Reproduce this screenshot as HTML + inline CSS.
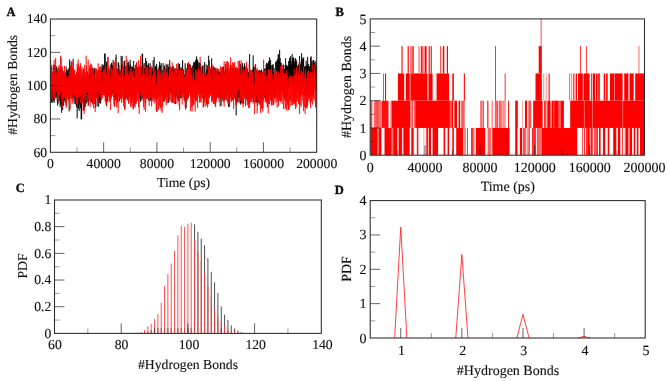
<!DOCTYPE html>
<html><head><meta charset="utf-8"><style>
html,body{margin:0;padding:0;background:#fff;}
svg{display:block;}
text{text-rendering:geometricPrecision;font-family:"Liberation Serif",serif;fill:#111;stroke:#111;stroke-width:0.12px;}
#wrap{width:669px;height:381px;will-change:transform;}
</style></head><body><div id="wrap">
<svg width="669" height="381" viewBox="0 0 669 381">
<defs>
<clipPath id="clipA"><rect x="50.4" y="19.0" width="266.3" height="133.3"/></clipPath>
<clipPath id="clipB"><rect x="370.2" y="18.9" width="274.3" height="136.29999999999998"/></clipPath>
</defs>
<rect width="669" height="381" fill="#fff"/>
<g clip-path="url(#clipA)">
<path d="M50.65 60.25V98.53M51.15 65.51V93.66M51.65 75.37V102.52M52.15 73.7V102.33M52.65 73.97V97.87M53.15 75.33V99.57M53.65 77.82V101.13M54.15 64.86V102.34M54.65 71.71V96.51M55.15 65.4V98.43M55.65 80.77V96.44M56.15 70.53V97.8M56.65 66.31V94.94M57.15 73.73V101.2M57.65 78.41V105.74M58.15 78.41V103.56M58.65 71.54V95.9M59.15 77.27V96.57M59.65 73.32V100.68M60.15 77.71V107.33M60.65 77.92V104.47M61.15 67.67V105.38M61.65 67.67V112.84M62.15 69.68V94.74M62.65 79.6V110.05M63.15 77.58V105.51M63.65 80.66V105.51M64.15 72.91V99.94M64.65 77.72V100.75M65.15 85.68V102.73M65.65 76.98V94.04M66.15 66.37V105.16M66.65 70.4V100.5M67.15 71.91V90.63M67.65 70.22V92.29M68.15 68.73V91.97M68.65 73.94V95.83M69.15 68.09V111.36M69.65 59.43V98.02M70.15 71.54V88.78M70.65 66.21V91.92M71.15 61.33V98.92M71.65 72.45V92.74M72.15 69.78V95.57M72.65 68.89V99.14M73.15 58.85V93.43M73.65 72.28V97.14M74.15 72.48V103.9M74.65 76.78V93.5M75.15 75.58V99.03M75.65 76.61V104.14M76.15 76.75V104.83M76.65 81.72V107.17M77.15 80.49V118.4M77.65 73.99V101.89M78.15 73.99V108.52M78.65 76.89V108.52M79.15 82.11V111.02M79.65 84.39V103.39M80.15 81.66V105.11M80.65 81.56V108.31M81.15 77.57V119.59M81.65 76.56V118.98M82.15 83.04V102.58M82.65 76.33V96.67M83.15 79.16V99.55M83.65 70.26V110.17M84.15 78.99V110.17M84.65 85.01V106.42M85.15 78.83V107.12M85.65 75.73V101.64M86.15 72.73V103.71M86.65 78.6V94.58M87.15 80.18V102.52M87.65 72.04V94.87M88.15 75.62V100.45M88.65 74.68V105.48M89.15 77.2V100.5M89.65 68.88V94.37M90.15 68.56V96.96M90.65 68.56V84.25M91.15 73.36V93.93M91.65 72.24V102.51M92.15 67.83V99.07M92.65 76.38V103.37M93.15 68.22V96.22M93.65 71.37V94.02M94.15 72.24V93.75M94.65 67.85V98.58M95.15 82.44V99.84M95.65 81.47V107.8M96.15 81V97.85M96.65 70.59V97.18M97.15 83.89V106.32M97.65 81.06V96.19M98.15 76.13V100.53M98.65 77.85V106.72M99.15 77.81V96.69M99.65 74.65V103.17M100.15 70.92V89.58M100.65 73.36V103.67M101.15 71.65V86.93M101.65 68.36V95.32M102.15 64.12V93.12M102.65 66.98V93.15M103.15 68.99V95.1M103.65 64.8V94.81M104.15 73.47V94.39M104.65 53.61V80.41M105.15 53.61V96.57M105.65 70.48V100.52M106.15 65.24V103.61M106.65 61.59V106.2M107.15 61.59V90.29M107.65 76.6V101.62M108.15 67.87V93.95M108.65 74.74V94.5M109.15 70.31V93.66M109.65 70.31V91.93M110.15 65.3V94.54M110.65 71.07V97.29M111.15 63.83V90.93M111.65 62.59V94.96M112.15 65.55V88.82M112.65 65.33V92.87M113.15 59.95V94.72M113.65 73.63V96.98M114.15 70.47V103.62M114.65 78.27V106.67M115.15 75.01V100.24M115.65 68.36V94.16M116.15 54.55V100.25M116.65 71.62V96.31M117.15 71.27V94.5M117.65 68.85V102.56M118.15 62.56V90.96M118.65 62.56V82.8M119.15 68.99V90.19M119.65 71.61V101.45M120.15 69.59V98.27M120.65 76.08V98.27M121.15 55.85V87.04M121.65 65.01V89.07M122.15 55.94V97.85M122.65 64.41V83.93M123.15 66.57V89.49M123.65 73.4V94.41M124.15 69.85V102.32M124.65 60.69V91.87M125.15 65.82V87.22M125.65 72.79V99.26M126.15 73.93V97.66M126.65 66.08V94.39M127.15 74.44V100.24M127.65 62.97V87.79M128.15 71.97V96.59M128.65 61.76V88.63M129.15 64.71V86.41M129.65 67.65V97.41M130.15 59.72V92.18M130.65 64.69V90.24M131.15 72.88V99.78M131.65 66.89V102.95M132.15 74.04V97.86M132.65 66.4V89.04M133.15 70.24V92.28M133.65 60.87V96.01M134.15 77.5V106.43M134.65 68.33V97.66M135.15 68.33V91.34M135.65 64.7V98.32M136.15 67.32V98.32M136.65 63.53V92.89M137.15 67.24V92.03M137.65 67.24V89.5M138.15 67.72V93.97M138.65 73.13V93.37M139.15 67.03V90.78M139.65 67.45V98.19M140.15 68.14V99.6M140.65 73.83V101.82M141.15 66.2V94.62M141.65 73.73V98.77M142.15 53.76V98.78M142.65 53.76V97.29M143.15 68.9V93.97M143.65 69.66V94.05M144.15 63.01V94.21M144.65 68.16V92.62M145.15 73.4V95.52M145.65 58.04V102.86M146.15 72.45V93.54M146.65 60.95V96.68M147.15 67.32V95.97M147.65 65.06V89.24M148.15 68.75V93.35M148.65 63.26V100.6M149.15 69.84V94.27M149.65 67.01V95.85M150.15 63.24V94.02M150.65 67.41V100.17M151.15 68.31V101.29M151.65 68.81V101.29M152.15 67.54V95.05M152.65 71.21V91.37M153.15 60.23V98.12M153.65 69.79V93.84M154.15 56.92V97.25M154.65 70.39V97.25M155.15 67.7V89.06M155.65 65.96V93.47M156.15 66.31V93.47M156.65 63.77V89.54M157.15 70.11V98.24M157.65 76.75V95.8M158.15 68.19V97.75M158.65 71.02V94.87M159.15 65.71V95.52M159.65 61.53V93.11M160.15 65.5V86.68M160.65 65.58V92.35M161.15 63.21V96.05M161.65 70.37V93.07M162.15 69.94V89.99M162.65 75.3V96.24M163.15 63.11V93.36M163.65 69.84V101.24M164.15 67.21V97.38M164.65 65.44V100.79M165.15 73.58V91.06M165.65 69.86V97.56M166.15 63.68V96.39M166.65 67.6V90.26M167.15 68.9V90.33M167.65 64.55V93.71M168.15 69.42V93.71M168.65 66.81V102.94M169.15 63.63V91.89M169.65 60.01V99.62M170.15 74.28V91.24M170.65 68.75V91.31M171.15 67.65V94.07M171.65 70.48V94.97M172.15 68.12V94.22M172.65 66.29V102.39M173.15 66.01V90.06M173.65 69.87V87.87M174.15 71.25V92.86M174.65 68.29V97.75M175.15 68.29V98.48M175.65 74.32V104.05M176.15 76.29V94.47M176.65 72.58V95.57M177.15 68.38V99.15M177.65 74.17V93.62M178.15 62.9V96.87M178.65 70.83V101.24M179.15 63.85V90.09M179.65 63.96V92.03M180.15 67.55V98.67M180.65 70.89V93.84M181.15 67.9V98.01M181.65 71.83V98.01M182.15 66.73V91.67M182.65 60.11V85.79M183.15 69.29V90.14M183.65 70.08V93.65M184.15 79.39V100.31M184.65 74.45V92.95M185.15 63.27V102.51M185.65 70.47V97.43M186.15 68.16V108.12M186.65 70.62V98.43M187.15 78.25V98.43M187.65 63.23V87.97M188.15 65.95V98.18M188.65 73.79V96.78M189.15 71.74V92.1M189.65 63.75V88.08M190.15 65.6V92.74M190.65 64.88V92.6M191.15 69.48V90.29M191.65 68.09V88.11M192.15 66.79V98.11M192.65 66.45V91.31M193.15 64.77V80.27M193.65 62.39V87.15M194.15 70.29V90.17M194.65 61.82V87.82M195.15 67.15V88.5M195.65 60.56V100.01M196.15 58.7V86.66M196.65 56.35V95.79M197.15 59.72V92.91M197.65 59.91V93.58M198.15 61.87V87.24M198.65 67.7V87.89M199.15 62.72V91.99M199.65 63.03V92.44M200.15 65.66V91.32M200.65 63.54V95.29M201.15 68.93V88.97M201.65 73.48V93.65M202.15 67.25V91.74M202.65 65.46V98.22M203.15 77.68V95.54M203.65 77.91V106.3M204.15 77.6V93.13M204.65 62.02V99.66M205.15 78.33V96.03M205.65 74.58V97.17M206.15 64.37V87.49M206.65 69.8V103.94M207.15 70.48V97.7M207.65 65.41V103.63M208.15 68.04V88.15M208.65 55.68V93.26M209.15 60.21V95.49M209.65 71.82V95.54M210.15 72.43V90.52M210.65 68.87V93.31M211.15 70.38V92.84M211.65 58.33V91.05M212.15 70.84V94.19M212.65 68.16V91.42M213.15 69.04V90.83M213.65 66.3V94.84M214.15 73.17V89.07M214.65 67.83V98.28M215.15 67.59V103.93M215.65 69.95V93.99M216.15 70.09V96.08M216.65 72.97V98.68M217.15 74.85V97.51M217.65 70.98V90.14M218.15 69.1V94.31M218.65 72.17V94.31M219.15 71.72V97.32M219.65 71.96V92.48M220.15 71.67V106.51M220.65 74.61V97.47M221.15 76.37V93.98M221.65 71.2V97.22M222.15 67.55V100.87M222.65 67.09V98.07M223.15 68.1V95.57M223.65 66.52V98.28M224.15 71.5V100.04M224.65 73.33V100.38M225.15 69.91V97.38M225.65 64.14V95.52M226.15 69V100.67M226.65 71.73V90.26M227.15 69.33V91.35M227.65 66.77V91.34M228.15 73.11V90.16M228.65 72.86V106.98M229.15 73.22V106.98M229.65 75.68V95.31M230.15 68.38V91.73M230.65 67.07V95.53M231.15 64.86V101.79M231.65 73.36V94.38M232.15 76.74V98.38M232.65 67.89V93.84M233.15 73.67V92.79M233.65 70.55V99.66M234.15 70.81V87.55M234.65 69.42V97.82M235.15 67.8V95.26M235.65 67.8V99.08M236.15 76.14V115.48M236.65 70.75V100.62M237.15 70.56V95.05M237.65 68.18V102.35M238.15 70.41V90.29M238.65 73.79V97.75M239.15 69.91V101.7M239.65 69.61V96.74M240.15 68.43V99.26M240.65 63.88V104.67M241.15 77.55V94.43M241.65 77.01V103.2M242.15 68.88V91.89M242.65 63.07V81.91M243.15 72.6V90.4M243.65 67.22V104.02M244.15 66.63V93.38M244.65 63.29V94.87M245.15 75.2V95.7M245.65 71.54V96.5M246.15 65.72V99.12M246.65 67.19V88.54M247.15 68.27V100.78M247.65 70.14V100.14M248.15 77V104.71M248.65 71.98V98.03M249.15 75.07V102.91M249.65 54.05V90.02M250.15 73.32V95.44M250.65 70.59V97.13M251.15 74.59V102.25M251.65 74.99V97.88M252.15 69.6V91.66M252.65 70.47V94.97M253.15 55.31V102.16M253.65 67.08V93.56M254.15 67.29V93.56M254.65 72.58V97.44M255.15 66.55V94.34M255.65 64.22V93.35M256.15 69.73V101.76M256.65 71.04V101.76M257.15 73.59V103.33M257.65 73.18V105.79M258.15 70.14V98.74M258.65 70.38V102.66M259.15 70.99V93.44M259.65 70.43V97.8M260.15 70.43V104.76M260.65 71.28V100.24M261.15 78.09V101.07M261.65 69.38V99.54M262.15 80.53V101.83M262.65 71.78V92.68M263.15 72.34V96.25M263.65 70.36V94.68M264.15 81.31V97.66M264.65 68.44V97.45M265.15 68.65V96.23M265.65 74.18V99.28M266.15 64.48V91.68M266.65 62.76V97.42M267.15 67.18V97.42M267.65 63.52V96.65M268.15 63.52V103.55M268.65 61.19V83.81M269.15 61.9V90.27M269.65 57.4V95.06M270.15 65.98V90.04M270.65 59.86V90.31M271.15 65.24V97.59M271.65 70.4V100.98M272.15 64.99V87.92M272.65 64.99V90.82M273.15 64.03V93.95M273.65 72.74V96.55M274.15 67.86V87.3M274.65 75.9V98.21M275.15 76.76V92.9M275.65 61.76V92.94M276.15 69.34V87.41M276.65 61.35V91.59M277.15 59.67V80.49M277.65 59.45V82.73M278.15 54.29V84.76M278.65 54.38V87.96M279.15 61.09V95.15M279.65 49.83V89.22M280.15 58.11V88.4M280.65 62.46V91.73M281.15 63.14V84.93M281.65 69.42V90.09M282.15 69.16V90.99M282.65 69.16V91.33M283.15 72.5V92.25M283.65 64.42V93.73M284.15 70.51V96.21M284.65 68.84V98.36M285.15 65.76V97.73M285.65 58.24V93.51M286.15 67.85V83.84M286.65 65.04V93.85M287.15 65.51V91.8M287.65 66.74V92.78M288.15 66.07V88.02M288.65 61V86.75M289.15 65.26V87.46M289.65 57.8V87.68M290.15 59.4V83.96M290.65 56.06V87.92M291.15 61.15V88.01M291.65 63.79V84.17M292.15 53.89V94.65M292.65 58.49V84.09M293.15 58.49V82.82M293.65 57.11V90.69M294.15 63.73V93.07M294.65 61.39V98.55M295.15 58.48V85.69M295.65 58.48V90.42M296.15 59.85V89.39M296.65 61.68V90.59M297.15 68.79V90.54M297.65 65.66V88.03M298.15 69.51V87.5M298.65 64.48V90.5M299.15 63.93V90.76M299.65 56.07V98.47M300.15 66.56V84.94M300.65 63.75V93.96M301.15 61.96V83.3M301.65 53.16V81.11M302.15 58.31V91.77M302.65 58.75V80.99M303.15 60.13V85.62M303.65 57.35V80.32M304.15 66.77V86.72M304.65 66.53V96.4M305.15 67.21V91.48M305.65 66.22V93.13M306.15 60.59V94.48M306.65 65.02V90.25M307.15 65.63V84.49M307.65 56.89V93.37M308.15 69.59V97M308.65 63.89V88.51M309.15 68.01V92.31M309.65 66.04V89.77M310.15 69.1V92.69M310.65 57.42V92.27M311.15 56.25V90.24M311.65 62.69V90.85M312.15 60.96V96.6M312.65 68.29V92.13M313.15 59.97V94.49M313.65 59.97V88.92M314.15 70.49V86.73M314.65 62.58V82.29M315.15 60.8V82.62M315.65 67.73V90.54M316.15 65.64V91.02M316.65 63.75V89.38" stroke="#000" stroke-width="1" fill="none"/>
<path d="M50.65 69.21V95.9M51.15 75.21V98.91M51.65 71.69V89.02M52.15 72.16V98.57M52.65 71.28V90.15M53.15 64.43V96.37M53.65 65.27V92.65M54.15 59.96V96.91M54.65 73.95V99.9M55.15 68.53V95.14M55.65 57.85V86.92M56.15 73.59V92.09M56.65 73.14V90.39M57.15 70.29V93.74M57.65 68.22V100.67M58.15 69.13V99.69M58.65 66.47V95.38M59.15 64.68V90.05M59.65 68.35V96.21M60.15 69.32V90.97M60.65 55.66V93.36M61.15 57.56V99.35M61.65 68.11V89.71M62.15 66.07V108.63M62.65 77.73V104.17M63.15 71.16V93.42M63.65 70.81V99.51M64.15 71.83V94.99M64.65 65.95V97.8M65.15 73.5V98.28M65.65 72.45V102.38M66.15 75.18V108.14M66.65 78.8V105.61M67.15 78.1V97.4M67.65 76.66V99.33M68.15 78.26V98.16M68.65 75.98V100.84M69.15 81.45V99.22M69.65 72.06V99.07M70.15 67.31V109.49M70.65 65.43V94.46M71.15 68.73V96.93M71.65 63.93V91.88M72.15 61.82V103.87M72.65 68.49V92.95M73.15 69.78V101.7M73.65 67.73V94.53M74.15 70.72V94.53M74.65 69.93V95.31M75.15 73.99V97.61M75.65 74.26V96.99M76.15 75.62V103.86M76.65 71.78V104.35M77.15 63.59V97.19M77.65 67.58V104.54M78.15 59.46V92.42M78.65 64.32V98.2M79.15 72.14V95.36M79.65 67.54V96.78M80.15 65.58V103.09M80.65 63.08V94.7M81.15 77.23V103.41M81.65 69.43V93.14M82.15 66.85V89.12M82.65 72.54V102.5M83.15 79.22V110.88M83.65 68.24V94.17M84.15 75.81V113.98M84.65 64.78V96.81M85.15 79.92V96.26M85.65 71.99V100.5M86.15 55.66V87.99M86.65 65.57V92.98M87.15 71.12V92.07M87.65 73.45V91.95M88.15 59.74V105.99M88.65 74.74V97.83M89.15 68.35V100.32M89.65 65.55V100.32M90.15 79.24V107.19M90.65 63.36V102.38M91.15 73.74V92M91.65 64.3V99.7M92.15 66.8V96.4M92.65 70.37V104.48M93.15 69.94V100M93.65 72.46V108.26M94.15 73.39V104M94.65 80V104M95.15 74.4V111.98M95.65 68.65V99M96.15 68.26V94.1M96.65 69.41V98.86M97.15 72.13V92.28M97.65 70.58V101.31M98.15 63.26V103.94M98.65 69.29V89M99.15 69.34V92.97M99.65 66.59V94.08M100.15 66.93V97.75M100.65 69.76V92.85M101.15 65.62V95.06M101.65 78.77V100.11M102.15 72.02V94.72M102.65 81.94V98.45M103.15 71.05V93.54M103.65 71.6V95.19M104.15 68.99V88.87M104.65 69.25V95.42M105.15 66.19V101.39M105.65 71.63V100.39M106.15 81.07V104.94M106.65 74.07V103.68M107.15 65.41V98.55M107.65 57.06V90.79M108.15 57.06V96.64M108.65 73.75V96.71M109.15 70.42V102.3M109.65 68.28V100.52M110.15 76.04V99.32M110.65 78.4V110M111.15 67.29V94.25M111.65 69.26V98.44M112.15 78.59V96.26M112.65 70.09V91.09M113.15 62.98V92.15M113.65 66.76V96.3M114.15 70.92V106.34M114.65 61.67V106.12M115.15 66.82V93.8M115.65 57.53V93.12M116.15 69.85V95.68M116.65 71.55V107.48M117.15 68.23V96.15M117.65 71.36V94.89M118.15 73.52V113.24M118.65 74.98V96.45M119.15 65.1V100.15M119.65 75.73V98.28M120.15 74.26V99.12M120.65 76.51V98.87M121.15 69.19V90.37M121.65 80.05V102.97M122.15 68.95V97.75M122.65 64.94V91.1M123.15 61.18V100.54M123.65 79.02V106.45M124.15 78.3V97.45M124.65 75.47V109.84M125.15 73.43V109.35M125.65 66.74V95.09M126.15 55.78V92.91M126.65 74.28V98.27M127.15 59.92V95.95M127.65 73.04V99.19M128.15 74.43V101.39M128.65 75.64V104.03M129.15 71.36V102.8M129.65 72.54V94.31M130.15 68.3V94.9M130.65 78.01V106.82M131.15 68.07V105.05M131.65 72.51V100.3M132.15 76.07V107.55M132.65 71.78V99.57M133.15 70.61V109.32M133.65 75.22V109.32M134.15 78.25V100.43M134.65 76.29V101.55M135.15 66.69V107.6M135.65 66.22V104.17M136.15 72.83V104.17M136.65 62.09V101.77M137.15 68.31V94.06M137.65 72.63V100.96M138.15 67.59V90.46M138.65 60.29V107M139.15 76.37V113.98M139.65 68.71V96.8M140.15 65.18V93.99M140.65 55.66V91.27M141.15 77.01V96.21M141.65 76.92V100.52M142.15 73.9V96.25M142.65 75.52V96.25M143.15 64.92V100.99M143.65 64.92V106.88M144.15 81.3V109.78M144.65 73.85V98.24M145.15 65.92V100.27M145.65 78.57V111.72M146.15 76.64V96.24M146.65 67.47V98.6M147.15 66.64V98.99M147.65 67.98V98.14M148.15 75.27V99.88M148.65 78.95V94.41M149.15 68.28V105.92M149.65 74.42V101.56M150.15 67.03V90.06M150.65 65.82V98M151.15 65.82V98.63M151.65 88.31V106.42M152.15 79.28V101M152.65 74.9V96.84M153.15 74.32V100.87M153.65 68.03V99.23M154.15 78.29V103.47M154.65 69.21V97.26M155.15 70.54V101.78M155.65 73.1V99.87M156.15 85.93V109.99M156.65 83.34V111.81M157.15 76.99V111.81M157.65 71.86V99.61M158.15 70.56V97.84M158.65 68.62V110.03M159.15 69.66V91.88M159.65 74.55V105.84M160.15 73.32V108.54M160.65 80.01V107.49M161.15 69.49V111.22M161.65 74.05V92.37M162.15 73.19V112.87M162.65 80.98V106.72M163.15 77.3V99.88M163.65 68.68V99.88M164.15 70.92V102.21M164.65 74.76V98.67M165.15 68.33V99.31M165.65 68.96V97.3M166.15 72.4V105.25M166.65 77.77V103.25M167.15 66.97V93.47M167.65 72.85V102.86M168.15 74.58V97.21M168.65 76.86V95.07M169.15 76.96V100.04M169.65 59.85V100.04M170.15 67.32V101.95M170.65 66.35V89.97M171.15 69.24V91.66M171.65 71.16V102.24M172.15 62.28V102.9M172.65 70.77V99.85M173.15 75.42V96.99M173.65 75.81V103M174.15 73.16V95.22M174.65 69V104.08M175.15 71.43V92.49M175.65 75.69V102.61M176.15 78.3V97.13M176.65 63.94V88.65M177.15 69.08V103.62M177.65 79.21V98.18M178.15 75.45V100.83M178.65 69.49V95.09M179.15 69.84V105.92M179.65 73.78V110.64M180.15 70.67V96.21M180.65 68.23V89.28M181.15 75.71V96.34M181.65 71.26V97.7M182.15 72.3V104.51M182.65 69.69V94.48M183.15 79.19V96.6M183.65 74.1V97.18M184.15 76.55V98.64M184.65 77.11V94.37M185.15 75.09V107.44M185.65 70.35V109.72M186.15 82.23V100.15M186.65 71.68V102.42M187.15 69.08V92.37M187.65 70.45V100.51M188.15 68.2V97.77M188.65 62.07V95.96M189.15 65.13V94.05M189.65 75.64V91.48M190.15 65.64V95.8M190.65 69.44V111.07M191.15 74.66V98.4M191.65 74.48V107.17M192.15 77.25V111.27M192.65 80.36V105.92M193.15 66.79V103.51M193.65 73.42V105.4M194.15 80.01V104.39M194.65 79.93V97.17M195.15 83.16V111.67M195.65 70.44V97.06M196.15 69.14V102.07M196.65 78.72V100.54M197.15 72.22V101.03M197.65 72.22V108.13M198.15 69.65V95.36M198.65 67.74V93.88M199.15 76.12V97.95M199.65 71.03V102.58M200.15 56.91V102.06M200.65 71.58V99.56M201.15 76.33V102.64M201.65 66.69V90.89M202.15 72.58V98.66M202.65 75.98V95.88M203.15 81.17V107.6M203.65 65.36V101.86M204.15 73.61V102.19M204.65 75.27V102.19M205.15 81.15V106.78M205.65 72.79V95.04M206.15 75.84V96.65M206.65 74.7V105.35M207.15 74.7V99.22M207.65 73.43V107.66M208.15 64.87V93.81M208.65 68.12V104.15M209.15 70.5V98.45M209.65 72.84V97.08M210.15 67.03V93.34M210.65 73.85V95.74M211.15 72.25V94.87M211.65 69.2V102.23M212.15 64.61V101.26M212.65 79.46V100.63M213.15 65.63V103.26M213.65 68.71V103.96M214.15 74.93V103.96M214.65 68.7V97.66M215.15 69.77V106.14M215.65 76.45V107.12M216.15 77.11V102.61M216.65 68.58V100.1M217.15 67.83V91.87M217.65 73.75V97.18M218.15 74.06V98.34M218.65 74.21V98.31M219.15 68.68V102.08M219.65 76.47V93.42M220.15 76.43V94.27M220.65 66.13V100.06M221.15 71.95V100.66M221.65 67.81V105.98M222.15 81.09V97.57M222.65 67.97V97.19M223.15 72.55V96.89M223.65 71.08V102.29M224.15 61.17V106.61M224.65 72.91V99.14M225.15 73.02V99.68M225.65 64.42V86.37M226.15 61.51V93.91M226.65 70.44V98.77M227.15 61.12V95.46M227.65 61.12V102.46M228.15 69.66V104.38M228.65 62.58V103.3M229.15 67.88V97.27M229.65 70.94V105.68M230.15 65.85V97.77M230.65 57.42V95.04M231.15 70V100.43M231.65 69.9V91.74M232.15 72.85V100.88M232.65 62.27V100.26M233.15 70.18V98.44M233.65 63.01V108.87M234.15 64.98V93.19M234.65 62.02V98.72M235.15 75.94V97.42M235.65 74.7V104.88M236.15 72.01V105.06M236.65 66.74V95.54M237.15 75.25V100.89M237.65 68.21V89.86M238.15 61.08V91.16M238.65 69.4V88.05M239.15 60.54V103.37M239.65 60.88V88.79M240.15 76.39V96.5M240.65 73.51V100.35M241.15 60.33V100.86M241.65 65.94V99.26M242.15 70.02V95.34M242.65 75.51V104.49M243.15 73.55V107.57M243.65 68.2V98.37M244.15 72.44V93.5M244.65 70.27V99.13M245.15 75.76V94.54M245.65 66.89V106.16M246.15 66.89V98.2M246.65 62.05V94.74M247.15 68.16V104.84M247.65 75.66V99.94M248.15 78.17V99.84M248.65 78.17V108.16M249.15 64.53V101.71M249.65 73.61V107.87M250.15 75.77V102.45M250.65 69.47V99.49M251.15 69.98V97.14M251.65 73.24V96.6M252.15 72.61V99.12M252.65 71.31V97.98M253.15 80.23V103.66M253.65 75.74V101.92M254.15 82.76V101.72M254.65 86.14V113.98M255.15 64.64V103.3M255.65 70.24V102.12M256.15 69.62V100.33M256.65 72.99V93.54M257.15 67.82V113.37M257.65 71.89V99.05M258.15 69.96V101.98M258.65 72.23V100.56M259.15 77.52V103.48M259.65 73.68V103.48M260.15 86.37V105.61M260.65 71.89V113.04M261.15 80.6V107.8M261.65 72.58V108.71M262.15 75.1V98.07M262.65 72.12V111.34M263.15 71.27V108.2M263.65 59.63V100.94M264.15 69.83V96.63M264.65 75.53V94.48M265.15 76.73V102.33M265.65 70.71V100.5M266.15 75.79V102.39M266.65 80.74V103.2M267.15 75.65V107.09M267.65 74.47V107.09M268.15 81.69V113.39M268.65 69.31V104.23M269.15 71.87V98.29M269.65 69.24V104.16M270.15 69.49V100.96M270.65 74.24V98.75M271.15 69.87V101.55M271.65 69.89V105.56M272.15 73.21V104.74M272.65 79.5V100.69M273.15 79.31V105.16M273.65 78.66V105.2M274.15 77.3V99.39M274.65 73.41V94.28M275.15 75.19V102.99M275.65 68.57V97.66M276.15 71.26V96.97M276.65 71.26V101.58M277.15 79.25V107.88M277.65 75.42V98.35M278.15 78.63V102.03M278.65 71.29V106.33M279.15 73.72V100.44M279.65 76.62V100.44M280.15 76.45V100.3M280.65 66.36V102.35M281.15 75.97V100.91M281.65 63.13V100.66M282.15 72.96V104.22M282.65 65.01V92.76M283.15 79.22V97.8M283.65 72.6V109.17M284.15 73.54V94.95M284.65 73.54V100.43M285.15 74.16V108.96M285.65 73.14V107.57M286.15 78.35V101.27M286.65 70.23V110.68M287.15 80.05V101.98M287.65 75.92V105.52M288.15 78.27V110.23M288.65 85.33V109.77M289.15 77.36V109.77M289.65 76.26V100.61M290.15 77.14V106.48M290.65 75.65V99.49M291.15 75.4V101.29M291.65 77.56V104.98M292.15 76.38V102.38M292.65 81.33V105.35M293.15 75.93V102.23M293.65 78.9V103.88M294.15 68.47V102.24M294.65 75.65V103.76M295.15 75.22V105.59M295.65 73.57V109.04M296.15 70.88V107.35M296.65 66.84V101.58M297.15 79.79V101.13M297.65 76.53V98.02M298.15 75.57V102.17M298.65 72.15V104.16M299.15 61.83V104.16M299.65 61.83V113.98M300.15 84.34V104.94M300.65 74.12V96.81M301.15 70.17V106.89M301.65 71.01V94.99M302.15 81.22V100.38M302.65 72.21V95.06M303.15 75.6V103.54M303.65 66.63V111.33M304.15 74.66V95.71M304.65 77.83V106.96M305.15 73.36V113.98M305.65 69.56V108.07M306.15 78.76V106.94M306.65 87.22V107.82M307.15 76.73V108.63M307.65 71.76V105.69M308.15 70.78V101.6M308.65 70.78V98.89M309.15 77.23V97.21M309.65 80.41V99.44M310.15 72.93V103.32M310.65 71.57V108.24M311.15 75.54V99.67M311.65 72.03V101.87M312.15 62.54V94.24M312.65 75.82V104.74M313.15 73.41V94.61M313.65 71.76V98.6M314.15 64.6V100.28M314.65 67.4V89.61M315.15 78.52V102.49M315.65 79.21V106.92M316.15 76.36V108.58M316.65 72.02V105.7" stroke="#ff0000" stroke-width="1" fill="none"/>
</g>
<path d="M50.4 118.98H60.4M50.4 85.65H60.4M50.4 52.33H60.4M103.66 152.3V142.3M156.92 152.3V142.3M210.18 152.3V142.3M263.44 152.3V142.3" stroke="#000" stroke-opacity="0.65" stroke-width="0.95" fill="none"/>
<path d="M50.4 135.64H55.4M50.4 102.31H55.4M50.4 68.99H55.4M50.4 35.66H55.4M77.03 152.3V147.3M130.29 152.3V147.3M183.55 152.3V147.3M236.81 152.3V147.3M290.07 152.3V147.3" stroke="#000" stroke-opacity="0.45" stroke-width="0.9" fill="none"/>
<rect x="50.4" y="19" width="266.3" height="133.3" fill="none" stroke="#2a2a2a" stroke-width="1.05"/>
<text transform="translate(47.2 156.6) scale(1.0000 1)" font-size="13.70" text-anchor="end">60</text>
<text transform="translate(47.2 123.28) scale(1.0000 1)" font-size="13.70" text-anchor="end">80</text>
<text transform="translate(47.2 89.95) scale(1.0000 1)" font-size="13.70" text-anchor="end">100</text>
<text transform="translate(47.2 56.62) scale(1.0000 1)" font-size="13.70" text-anchor="end">120</text>
<text transform="translate(47.2 23.3) scale(1.0000 1)" font-size="13.70" text-anchor="end">140</text>
<text transform="translate(50.4 168.1) scale(1.0000 1)" font-size="13.70" text-anchor="middle">0</text>
<text transform="translate(103.66 168.1) scale(1.0000 1)" font-size="13.70" text-anchor="middle">40000</text>
<text transform="translate(156.92 168.1) scale(1.0000 1)" font-size="13.70" text-anchor="middle">80000</text>
<text transform="translate(210.18 168.1) scale(1.0000 1)" font-size="13.70" text-anchor="middle">120000</text>
<text transform="translate(263.44 168.1) scale(1.0000 1)" font-size="13.70" text-anchor="middle">160000</text>
<text transform="translate(316.7 168.1) scale(1.0000 1)" font-size="13.70" text-anchor="middle">200000</text>
<text transform="translate(183.6 187.1) scale(1.0000 1)" font-size="13.70" text-anchor="middle">Time (ps)</text>
<text transform="translate(17.3 84.8) rotate(-90) scale(1.0000 1)" font-size="13.70" text-anchor="middle">#Hydrogen Bonds</text>
<text transform="translate(6.4 15.5) scale(1.0000 1)" font-size="12.50" text-anchor="start" font-weight="bold" style="stroke-width:0.4px">A</text>
<g clip-path="url(#clipB)">
<rect x="370.4" y="127.94" width="7.1" height="27.26" fill="#ff0000" fill-opacity="1"/>
<rect x="377.5" y="127.94" width="1.3" height="27.26" fill="#ff0000" fill-opacity="0.55"/>
<rect x="378.8" y="127.94" width="2.6" height="27.26" fill="#ff0000" fill-opacity="1"/>
<rect x="384.5" y="127.94" width="7.1" height="27.26" fill="#ff0000" fill-opacity="1"/>
<rect x="391.6" y="127.94" width="1.6" height="27.26" fill="#ff0000" fill-opacity="0.55"/>
<rect x="393.2" y="127.94" width="3.9" height="27.26" fill="#ff0000" fill-opacity="1"/>
<rect x="397.1" y="127.94" width="1.6" height="27.26" fill="#ff0000" fill-opacity="0.22000000000000003"/>
<rect x="398.7" y="127.94" width="3.2" height="27.26" fill="#ff0000" fill-opacity="1"/>
<rect x="401.9" y="127.94" width="1.5" height="27.26" fill="#ff0000" fill-opacity="0.22000000000000003"/>
<rect x="403.4" y="127.94" width="6.3" height="27.26" fill="#ff0000" fill-opacity="1"/>
<rect x="411.3" y="127.94" width="2.4" height="27.26" fill="#ff0000" fill-opacity="1"/>
<rect x="416.8" y="127.94" width="1.6" height="27.26" fill="#ff0000" fill-opacity="0.8800000000000001"/>
<rect x="423.5" y="127.94" width="0.8" height="27.26" fill="#ff0000" fill-opacity="0.44000000000000006"/>
<rect x="426.3" y="127.94" width="1.6" height="27.26" fill="#ff0000" fill-opacity="1"/>
<rect x="428.7" y="127.94" width="2.3" height="27.26" fill="#ff0000" fill-opacity="1"/>
<rect x="432.6" y="127.94" width="5.5" height="27.26" fill="#ff0000" fill-opacity="1"/>
<rect x="443.6" y="127.94" width="1.6" height="27.26" fill="#ff0000" fill-opacity="1"/>
<rect x="447.6" y="127.94" width="1.5" height="27.26" fill="#ff0000" fill-opacity="1"/>
<rect x="452.3" y="127.94" width="1.6" height="27.26" fill="#ff0000" fill-opacity="1"/>
<rect x="456.2" y="127.94" width="7.1" height="27.26" fill="#ff0000" fill-opacity="1"/>
<rect x="464.5" y="127.94" width="1.08" height="27.26" fill="#ff0000" fill-opacity="0.84"/>
<rect x="467.2" y="127.94" width="0.8" height="27.26" fill="#ff0000" fill-opacity="1"/>
<rect x="471.2" y="127.94" width="1.6" height="27.26" fill="#ff0000" fill-opacity="1"/>
<rect x="473.5" y="127.94" width="0.8" height="27.26" fill="#ff0000" fill-opacity="1"/>
<rect x="475.9" y="127.94" width="1.6" height="27.26" fill="#ff0000" fill-opacity="1"/>
<rect x="476.6" y="127.94" width="8.6" height="27.26" fill="#ff0000" fill-opacity="1"/>
<rect x="487.72" y="127.94" width="0.82" height="27.26" fill="#ff0000" fill-opacity="0.84"/>
<rect x="488.63" y="127.94" width="0.82" height="27.26" fill="#ff0000" fill-opacity="0.86"/>
<rect x="489.55" y="127.94" width="0.82" height="27.26" fill="#ff0000" fill-opacity="0.7"/>
<rect x="490.47" y="127.94" width="0.82" height="27.26" fill="#ff0000" fill-opacity="0.78"/>
<rect x="492.3" y="127.94" width="17.3" height="27.26" fill="#ff0000" fill-opacity="1"/>
<rect x="515.2" y="127.94" width="2.3" height="27.26" fill="#ff0000" fill-opacity="1"/>
<rect x="519.9" y="127.94" width="2.3" height="27.26" fill="#ff0000" fill-opacity="1"/>
<rect x="523.25" y="127.94" width="0.94" height="27.26" fill="#ff0000" fill-opacity="0.94"/>
<rect x="524.3" y="127.94" width="0.94" height="27.26" fill="#ff0000" fill-opacity="0.89"/>
<rect x="525.35" y="127.94" width="0.94" height="27.26" fill="#ff0000" fill-opacity="0.7"/>
<rect x="527.45" y="127.94" width="0.94" height="27.26" fill="#ff0000" fill-opacity="0.76"/>
<rect x="528.5" y="127.94" width="1.5" height="27.26" fill="#ff0000" fill-opacity="0.66"/>
<rect x="531.97" y="127.94" width="0.88" height="27.26" fill="#ff0000" fill-opacity="0.99"/>
<rect x="532.95" y="127.94" width="0.88" height="27.26" fill="#ff0000" fill-opacity="0.9"/>
<rect x="533.93" y="127.94" width="0.88" height="27.26" fill="#ff0000" fill-opacity="0.98"/>
<rect x="534.92" y="127.94" width="0.88" height="27.26" fill="#ff0000" fill-opacity="0.99"/>
<rect x="536.88" y="127.94" width="0.88" height="27.26" fill="#ff0000" fill-opacity="0.81"/>
<rect x="537.87" y="127.94" width="0.88" height="27.26" fill="#ff0000" fill-opacity="0.74"/>
<rect x="538.85" y="127.94" width="0.88" height="27.26" fill="#ff0000" fill-opacity="0.79"/>
<rect x="539.83" y="127.94" width="0.88" height="27.26" fill="#ff0000" fill-opacity="0.7"/>
<rect x="540.82" y="127.94" width="0.88" height="27.26" fill="#ff0000" fill-opacity="0.8"/>
<rect x="541.8" y="127.94" width="35.4" height="27.26" fill="#ff0000" fill-opacity="1"/>
<rect x="582" y="127.94" width="0.9" height="27.26" fill="#ff0000" fill-opacity="0.72"/>
<rect x="584" y="127.94" width="0.9" height="27.26" fill="#ff0000" fill-opacity="0.92"/>
<rect x="586" y="127.94" width="0.9" height="27.26" fill="#ff0000" fill-opacity="0.94"/>
<rect x="587" y="127.94" width="0.9" height="27.26" fill="#ff0000" fill-opacity="0.87"/>
<rect x="588" y="127.94" width="1.6" height="27.26" fill="#ff0000" fill-opacity="1"/>
<rect x="589.6" y="127.94" width="1.5" height="27.26" fill="#ff0000" fill-opacity="0.44000000000000006"/>
<rect x="591.1" y="127.94" width="1.6" height="27.26" fill="#ff0000" fill-opacity="1"/>
<rect x="594.3" y="127.94" width="0.8" height="27.26" fill="#ff0000" fill-opacity="1"/>
<rect x="595.1" y="127.94" width="0.72" height="27.26" fill="#ff0000" fill-opacity="0.71"/>
<rect x="595.9" y="127.94" width="0.72" height="27.26" fill="#ff0000" fill-opacity="0.99"/>
<rect x="596.7" y="127.94" width="1.1" height="27.26" fill="#ff0000" fill-opacity="1"/>
<rect x="599" y="127.94" width="1.6" height="27.26" fill="#ff0000" fill-opacity="1"/>
<rect x="603" y="127.94" width="2.3" height="27.26" fill="#ff0000" fill-opacity="1"/>
<rect x="607.7" y="127.94" width="1.6" height="27.26" fill="#ff0000" fill-opacity="1"/>
<rect x="613.2" y="127.94" width="3.1" height="27.26" fill="#ff0000" fill-opacity="1"/>
<rect x="617.9" y="127.94" width="2.4" height="27.26" fill="#ff0000" fill-opacity="1"/>
<rect x="621.9" y="127.94" width="0.88" height="27.26" fill="#ff0000" fill-opacity="0.93"/>
<rect x="624.82" y="127.94" width="0.88" height="27.26" fill="#ff0000" fill-opacity="0.81"/>
<rect x="625.8" y="127.94" width="2.4" height="27.26" fill="#ff0000" fill-opacity="1"/>
<rect x="628.2" y="127.94" width="1.5" height="27.26" fill="#ff0000" fill-opacity="0.44000000000000006"/>
<rect x="629.7" y="127.94" width="2.4" height="27.26" fill="#ff0000" fill-opacity="1"/>
<rect x="633.7" y="127.94" width="1.5" height="27.26" fill="#ff0000" fill-opacity="1"/>
<rect x="636.8" y="127.94" width="1.6" height="27.26" fill="#ff0000" fill-opacity="1"/>
<rect x="640" y="127.94" width="4.5" height="27.26" fill="#ff0000" fill-opacity="1"/>
<rect x="370.4" y="100.68" width="0.9" height="27.26" fill="#ff0000" fill-opacity="0.93"/>
<rect x="371.4" y="100.68" width="0.9" height="27.26" fill="#ff0000" fill-opacity="0.92"/>
<rect x="374.4" y="100.68" width="0.9" height="27.26" fill="#ff0000" fill-opacity="0.98"/>
<rect x="375.4" y="100.68" width="0.9" height="27.26" fill="#ff0000" fill-opacity="0.8"/>
<rect x="376.4" y="100.68" width="0.9" height="27.26" fill="#ff0000" fill-opacity="0.98"/>
<rect x="377.4" y="100.68" width="0.9" height="27.26" fill="#ff0000" fill-opacity="0.98"/>
<rect x="378.4" y="100.68" width="0.9" height="27.26" fill="#ff0000" fill-opacity="0.79"/>
<rect x="379.4" y="100.68" width="0.9" height="27.26" fill="#ff0000" fill-opacity="0.75"/>
<rect x="380.4" y="100.68" width="0.9" height="27.26" fill="#ff0000" fill-opacity="0.74"/>
<rect x="381.4" y="100.68" width="0.5" height="27.26" fill="#ff0000" fill-opacity="0.33"/>
<rect x="381.9" y="100.68" width="6.6" height="27.26" fill="#ff0000" fill-opacity="0.95"/>
<rect x="390.57" y="100.68" width="0.93" height="27.26" fill="#ff0000" fill-opacity="0.71"/>
<rect x="391.6" y="100.68" width="18.9" height="27.26" fill="#ff0000" fill-opacity="1"/>
<rect x="411.44" y="100.68" width="0.85" height="27.26" fill="#ff0000" fill-opacity="0.82"/>
<rect x="412.38" y="100.68" width="0.85" height="27.26" fill="#ff0000" fill-opacity="0.88"/>
<rect x="414.26" y="100.68" width="0.85" height="27.26" fill="#ff0000" fill-opacity="0.83"/>
<rect x="415.2" y="100.68" width="33.9" height="27.26" fill="#ff0000" fill-opacity="1"/>
<rect x="449.1" y="100.68" width="1.08" height="27.26" fill="#ff0000" fill-opacity="0.97"/>
<rect x="450.3" y="100.68" width="1.08" height="27.26" fill="#ff0000" fill-opacity="0.85"/>
<rect x="451.5" y="100.68" width="1.5" height="27.26" fill="#ff0000" fill-opacity="1"/>
<rect x="453.8" y="100.68" width="0.72" height="27.26" fill="#ff0000" fill-opacity="0.92"/>
<rect x="454.6" y="100.68" width="2.4" height="27.26" fill="#ff0000" fill-opacity="1"/>
<rect x="458.6" y="100.68" width="1.6" height="27.26" fill="#ff0000" fill-opacity="1"/>
<rect x="461.35" y="100.68" width="1.04" height="27.26" fill="#ff0000" fill-opacity="0.83"/>
<rect x="462.5" y="100.68" width="0.96" height="27.26" fill="#ff0000" fill-opacity="0.95"/>
<rect x="463.57" y="100.68" width="0.96" height="27.26" fill="#ff0000" fill-opacity="0.84"/>
<rect x="480.5" y="100.68" width="1.1" height="27.26" fill="#ff0000" fill-opacity="1"/>
<rect x="482.6" y="100.68" width="1.1" height="27.26" fill="#ff0000" fill-opacity="1"/>
<rect x="487.3" y="100.68" width="1.1" height="27.26" fill="#ff0000" fill-opacity="1"/>
<rect x="491.73" y="100.68" width="0.78" height="27.26" fill="#ff0000" fill-opacity="0.85"/>
<rect x="494.87" y="100.68" width="0.87" height="27.26" fill="#ff0000" fill-opacity="0.79"/>
<rect x="495.84" y="100.68" width="0.87" height="27.26" fill="#ff0000" fill-opacity="0.74"/>
<rect x="496.81" y="100.68" width="0.87" height="27.26" fill="#ff0000" fill-opacity="1"/>
<rect x="498.75" y="100.68" width="0.87" height="27.26" fill="#ff0000" fill-opacity="0.85"/>
<rect x="499.72" y="100.68" width="0.87" height="27.26" fill="#ff0000" fill-opacity="0.73"/>
<rect x="500.68" y="100.68" width="0.87" height="27.26" fill="#ff0000" fill-opacity="0.93"/>
<rect x="502.62" y="100.68" width="0.87" height="27.26" fill="#ff0000" fill-opacity="0.94"/>
<rect x="504.56" y="100.68" width="0.87" height="27.26" fill="#ff0000" fill-opacity="0.9"/>
<rect x="508" y="100.68" width="0.9" height="27.26" fill="#ff0000" fill-opacity="1"/>
<rect x="515.2" y="100.68" width="2.6" height="27.26" fill="#ff0000" fill-opacity="1"/>
<rect x="522.2" y="100.68" width="0.8" height="27.26" fill="#ff0000" fill-opacity="0.44000000000000006"/>
<rect x="525" y="100.68" width="2" height="27.26" fill="#ff0000" fill-opacity="1"/>
<rect x="527.8" y="100.68" width="1.5" height="27.26" fill="#ff0000" fill-opacity="0.44000000000000006"/>
<rect x="529.3" y="100.68" width="0.83" height="27.26" fill="#ff0000" fill-opacity="0.91"/>
<rect x="530.22" y="100.68" width="0.83" height="27.26" fill="#ff0000" fill-opacity="0.85"/>
<rect x="532.98" y="100.68" width="0.83" height="27.26" fill="#ff0000" fill-opacity="0.98"/>
<rect x="533.9" y="100.68" width="8.7" height="27.26" fill="#ff0000" fill-opacity="1"/>
<rect x="544.2" y="100.68" width="1.5" height="27.26" fill="#ff0000" fill-opacity="1"/>
<rect x="545.7" y="100.68" width="1.6" height="27.26" fill="#ff0000" fill-opacity="0.33"/>
<rect x="547.3" y="100.68" width="3.2" height="27.26" fill="#ff0000" fill-opacity="1"/>
<rect x="550.5" y="100.68" width="1.5" height="27.26" fill="#ff0000" fill-opacity="0.44000000000000006"/>
<rect x="552" y="100.68" width="6.3" height="27.26" fill="#ff0000" fill-opacity="1"/>
<rect x="558.3" y="100.68" width="1.08" height="27.26" fill="#ff0000" fill-opacity="0.86"/>
<rect x="559.5" y="100.68" width="1.08" height="27.26" fill="#ff0000" fill-opacity="0.9"/>
<rect x="560.7" y="100.68" width="3.2" height="27.26" fill="#ff0000" fill-opacity="1"/>
<rect x="570.2" y="100.68" width="74.3" height="27.26" fill="#ff0000" fill-opacity="1"/>
<rect x="383" y="73.42" width="0.7" height="27.26" fill="#ff0000" fill-opacity="1"/>
<rect x="385" y="73.42" width="1.1" height="27.26" fill="#ff0000" fill-opacity="1"/>
<rect x="397.9" y="73.42" width="6.3" height="27.26" fill="#ff0000" fill-opacity="1"/>
<rect x="405.8" y="73.42" width="3.9" height="27.26" fill="#ff0000" fill-opacity="1"/>
<rect x="409.7" y="73.42" width="0.8" height="27.26" fill="#ff0000" fill-opacity="0.44000000000000006"/>
<rect x="410.5" y="73.42" width="16.6" height="27.26" fill="#ff0000" fill-opacity="1"/>
<rect x="427.1" y="73.42" width="1.6" height="27.26" fill="#ff0000" fill-opacity="0.44000000000000006"/>
<rect x="428.7" y="73.42" width="3.9" height="27.26" fill="#ff0000" fill-opacity="1"/>
<rect x="435.7" y="73.42" width="1.3" height="27.26" fill="#ff0000" fill-opacity="0.44000000000000006"/>
<rect x="437" y="73.42" width="12.1" height="27.26" fill="#ff0000" fill-opacity="1"/>
<rect x="452.3" y="73.42" width="1.6" height="27.26" fill="#ff0000" fill-opacity="1"/>
<rect x="463.8" y="73.42" width="1.1" height="27.26" fill="#ff0000" fill-opacity="1"/>
<rect x="495" y="73.42" width="0.8" height="27.26" fill="#ff0000" fill-opacity="1"/>
<rect x="504.7" y="73.42" width="0.8" height="27.26" fill="#ff0000" fill-opacity="1"/>
<rect x="535.5" y="73.42" width="6.3" height="27.26" fill="#ff0000" fill-opacity="1"/>
<rect x="543.4" y="73.42" width="0.8" height="27.26" fill="#ff0000" fill-opacity="0.55"/>
<rect x="545.7" y="73.42" width="0.8" height="27.26" fill="#ff0000" fill-opacity="0.55"/>
<rect x="548.6" y="73.42" width="1.1" height="27.26" fill="#ff0000" fill-opacity="1"/>
<rect x="569" y="73.42" width="1.2" height="27.26" fill="#ff0000" fill-opacity="0.55"/>
<rect x="571.3" y="73.42" width="0.9" height="27.26" fill="#ff0000" fill-opacity="0.55"/>
<rect x="573.3" y="73.42" width="1.1" height="27.26" fill="#ff0000" fill-opacity="1"/>
<rect x="575.7" y="73.42" width="1.3" height="27.26" fill="#ff0000" fill-opacity="1"/>
<rect x="578" y="73.42" width="4.8" height="27.26" fill="#ff0000" fill-opacity="1"/>
<rect x="583.5" y="73.42" width="6.1" height="27.26" fill="#ff0000" fill-opacity="1"/>
<rect x="591.1" y="73.42" width="0.8" height="27.26" fill="#ff0000" fill-opacity="1"/>
<rect x="592.7" y="73.42" width="2.4" height="27.26" fill="#ff0000" fill-opacity="1"/>
<rect x="595.9" y="73.42" width="1.5" height="27.26" fill="#ff0000" fill-opacity="1"/>
<rect x="597.4" y="73.42" width="0.8" height="27.26" fill="#ff0000" fill-opacity="0.44000000000000006"/>
<rect x="598.2" y="73.42" width="1.6" height="27.26" fill="#ff0000" fill-opacity="1"/>
<rect x="603.7" y="73.42" width="1.6" height="27.26" fill="#ff0000" fill-opacity="0.9900000000000001"/>
<rect x="606.1" y="73.42" width="1.6" height="27.26" fill="#ff0000" fill-opacity="1"/>
<rect x="610" y="73.42" width="4" height="27.26" fill="#ff0000" fill-opacity="1"/>
<rect x="614" y="73.42" width="0.8" height="27.26" fill="#ff0000" fill-opacity="0.55"/>
<rect x="614.8" y="73.42" width="7.8" height="27.26" fill="#ff0000" fill-opacity="1"/>
<rect x="624.2" y="73.42" width="4" height="27.26" fill="#ff0000" fill-opacity="1"/>
<rect x="628.2" y="73.42" width="1.5" height="27.26" fill="#ff0000" fill-opacity="0.33"/>
<rect x="629.7" y="73.42" width="4" height="27.26" fill="#ff0000" fill-opacity="1"/>
<rect x="635.2" y="73.42" width="9.3" height="27.26" fill="#ff0000" fill-opacity="1"/>
<rect x="401.1" y="46.16" width="0.8" height="27.26" fill="#ff0000" fill-opacity="0.55"/>
<rect x="401.9" y="46.16" width="0.7" height="27.26" fill="#ff0000" fill-opacity="1"/>
<rect x="407" y="46.16" width="0.7" height="27.26" fill="#ff0000" fill-opacity="0.55"/>
<rect x="408.2" y="46.16" width="0.8" height="27.26" fill="#ff0000" fill-opacity="1"/>
<rect x="410.5" y="46.16" width="1" height="27.26" fill="#ff0000" fill-opacity="1"/>
<rect x="412" y="46.16" width="0.8" height="27.26" fill="#ff0000" fill-opacity="0.8800000000000001"/>
<rect x="413" y="46.16" width="0.7" height="27.26" fill="#ff0000" fill-opacity="1"/>
<rect x="418.4" y="46.16" width="1.3" height="27.26" fill="#ff0000" fill-opacity="0.55"/>
<rect x="420.8" y="46.16" width="1.1" height="27.26" fill="#ff0000" fill-opacity="1"/>
<rect x="422.4" y="46.16" width="1" height="27.26" fill="#ff0000" fill-opacity="1"/>
<rect x="424" y="46.16" width="0.7" height="27.26" fill="#ff0000" fill-opacity="0.55"/>
<rect x="424.9" y="46.16" width="1.4" height="27.26" fill="#ff0000" fill-opacity="1"/>
<rect x="426.3" y="46.16" width="0.8" height="27.26" fill="#ff0000" fill-opacity="0.66"/>
<rect x="428.7" y="46.16" width="1.1" height="27.26" fill="#ff0000" fill-opacity="1"/>
<rect x="430.7" y="46.16" width="1.1" height="27.26" fill="#ff0000" fill-opacity="1"/>
<rect x="440.3" y="46.16" width="0.9" height="27.26" fill="#ff0000" fill-opacity="0.95"/>
<rect x="442.8" y="46.16" width="1.5" height="27.26" fill="#ff0000" fill-opacity="1"/>
<rect x="446.8" y="46.16" width="1.2" height="27.26" fill="#ff0000" fill-opacity="1"/>
<rect x="495" y="46.16" width="0.8" height="27.26" fill="#ff0000" fill-opacity="1"/>
<rect x="538.7" y="46.16" width="3.1" height="27.26" fill="#ff0000" fill-opacity="1"/>
<rect x="580.1" y="46.16" width="0.8" height="27.26" fill="#ff0000" fill-opacity="1"/>
<rect x="585.9" y="46.16" width="0.8" height="27.26" fill="#ff0000" fill-opacity="1"/>
<rect x="638.4" y="46.16" width="1.1" height="27.26" fill="#ff0000" fill-opacity="0.55"/>
<rect x="540.7" y="18.9" width="0.8" height="27.26" fill="#ff0000" fill-opacity="0.8800000000000001"/>
<rect x="583.9" y="100.68" width="0.7" height="27.26" fill="#fff" fill-opacity="0.55"/>
<rect x="592.2" y="100.68" width="0.7" height="27.26" fill="#fff" fill-opacity="0.55"/>
<rect x="622.4" y="100.68" width="0.7" height="27.26" fill="#fff" fill-opacity="0.55"/>
<rect x="553.5" y="100.68" width="0.7" height="27.26" fill="#fff" fill-opacity="0.55"/>
</g>
<path d="M370.2 127.94H380.2M370.2 100.68H380.2M370.2 73.42H380.2M370.2 46.16H380.2M425.06 155.2V145.2M479.92 155.2V145.2M534.78 155.2V145.2M589.64 155.2V145.2" stroke="#000" stroke-opacity="0.65" stroke-width="0.95" fill="none"/>
<path d="M370.2 141.57H375.2M370.2 114.31H375.2M370.2 87.05H375.2M370.2 59.79H375.2M370.2 32.53H375.2M397.63 155.2V150.2M452.49 155.2V150.2M507.35 155.2V150.2M562.21 155.2V150.2M617.07 155.2V150.2" stroke="#000" stroke-opacity="0.45" stroke-width="0.9" fill="none"/>
<rect x="370.2" y="18.9" width="274.3" height="136.3" fill="none" stroke="#2a2a2a" stroke-width="1.05"/>
<text transform="translate(366.6 159.9) scale(1.0000 1)" font-size="14.00" text-anchor="end">0</text>
<text transform="translate(366.6 132.64) scale(1.0000 1)" font-size="14.00" text-anchor="end">1</text>
<text transform="translate(366.6 105.38) scale(1.0000 1)" font-size="14.00" text-anchor="end">2</text>
<text transform="translate(366.6 78.12) scale(1.0000 1)" font-size="14.00" text-anchor="end">3</text>
<text transform="translate(366.6 50.86) scale(1.0000 1)" font-size="14.00" text-anchor="end">4</text>
<text transform="translate(366.6 23.6) scale(1.0000 1)" font-size="14.00" text-anchor="end">5</text>
<text transform="translate(370.2 171.7) scale(1.0000 1)" font-size="14.00" text-anchor="middle">0</text>
<text transform="translate(425.06 171.7) scale(1.0000 1)" font-size="14.00" text-anchor="middle">40000</text>
<text transform="translate(479.92 171.7) scale(1.0000 1)" font-size="14.00" text-anchor="middle">80000</text>
<text transform="translate(534.78 171.7) scale(1.0000 1)" font-size="14.00" text-anchor="middle">120000</text>
<text transform="translate(589.64 171.7) scale(1.0000 1)" font-size="14.00" text-anchor="middle">160000</text>
<text transform="translate(644.5 171.7) scale(1.0000 1)" font-size="14.00" text-anchor="middle">200000</text>
<text transform="translate(507.8 191.1) scale(1.0000 1)" font-size="14.00" text-anchor="middle">Time (ps)</text>
<text transform="translate(351.4 86.9) rotate(-90) scale(1.0000 1)" font-size="14.00" text-anchor="middle">#Hydrogen Bonds</text>
<text transform="translate(335.6 15.7) scale(1.0000 1)" font-size="12.50" text-anchor="start" font-weight="bold" style="stroke-width:0.4px">B</text>
<path d="M194.57 333.4V224.4M197.91 333.4V231.8M201.24 333.4V238.6M204.58 333.4V245.2M207.91 333.4V258.1M211.25 333.4V271.8M214.58 333.4V282.3M217.92 333.4V292.8M221.25 333.4V306.4M224.59 333.4V314.8M227.92 333.4V320M231.25 333.4V325.3M234.59 333.4V328.4M237.93 333.4V330.5M241.26 333.4V332.2M244.6 333.4V332.9M141.21 333.4V332.8M144.55 333.4V332.3M147.88 333.4V332M151.22 333.4V330M154.55 333.4V328M157.88 333.4V328M161.22 333.4V328M164.56 333.4V328M167.89 333.4V328M171.23 333.4V328M174.56 333.4V328M177.9 333.4V328M181.23 333.4V328M184.56 333.4V328M187.9 333.4V328M191.23 333.4V328" stroke="#3a3a3a" stroke-width="0.9" fill="none"/>
<path d="M134.54 333.4V332.8M137.88 333.4V332.3M141.21 333.4V332M144.55 333.4V330M147.88 333.4V326.3M151.22 333.4V323.8M154.55 333.4V319M157.88 333.4V314M161.22 333.4V302.8M164.56 333.4V286.1M167.89 333.4V274M171.23 333.4V263.5M174.56 333.4V250.9M177.9 333.4V235.2M181.23 333.4V226M184.56 333.4V226.8M187.9 333.4V223.7M191.23 333.4V222.6M194.57 333.4V240M197.91 333.4V251.7M201.24 333.4V261M204.58 333.4V273.9M207.91 333.4V286.5M211.25 333.4V295.9M214.58 333.4V309.5M217.92 333.4V316.9M221.25 333.4V322.1M224.59 333.4V326.3M227.92 333.4V328.8M231.25 333.4V330.5M234.59 333.4V331.8M237.93 333.4V332.6M241.26 333.4V333" stroke="#ff3c3c" stroke-width="0.9" fill="none"/>
<path d="M54.5 306.72H64.5M54.5 280.04H64.5M54.5 253.36H64.5M54.5 226.68H64.5M121.2 333.4V323.4M187.9 333.4V323.4M254.6 333.4V323.4" stroke="#000" stroke-opacity="0.65" stroke-width="0.95" fill="none"/>
<path d="M54.5 320.06H59.5M54.5 293.38H59.5M54.5 266.7H59.5M54.5 240.02H59.5M54.5 213.34H59.5M87.85 333.4V328.4M154.55 333.4V328.4M221.25 333.4V328.4M287.95 333.4V328.4" stroke="#000" stroke-opacity="0.45" stroke-width="0.9" fill="none"/>
<rect x="54.5" y="200" width="266.8" height="133.4" fill="none" stroke="#2a2a2a" stroke-width="1.05"/>
<text transform="translate(51.3 337.7) scale(1.0000 1)" font-size="13.70" text-anchor="end">0</text>
<text transform="translate(51.3 311.02) scale(1.0000 1)" font-size="13.70" text-anchor="end">0.2</text>
<text transform="translate(51.3 284.34) scale(1.0000 1)" font-size="13.70" text-anchor="end">0.4</text>
<text transform="translate(51.3 257.66) scale(1.0000 1)" font-size="13.70" text-anchor="end">0.6</text>
<text transform="translate(51.3 230.98) scale(1.0000 1)" font-size="13.70" text-anchor="end">0.8</text>
<text transform="translate(51.3 204.3) scale(1.0000 1)" font-size="13.70" text-anchor="end">1</text>
<text transform="translate(54.9 349.2) scale(1.0000 1)" font-size="13.70" text-anchor="middle">60</text>
<text transform="translate(121.6 349.2) scale(1.0000 1)" font-size="13.70" text-anchor="middle">80</text>
<text transform="translate(189 349.2) scale(1.0000 1)" font-size="13.70" text-anchor="middle">100</text>
<text transform="translate(255.7 349.2) scale(1.0000 1)" font-size="13.70" text-anchor="middle">120</text>
<text transform="translate(322.4 349.2) scale(1.0000 1)" font-size="13.70" text-anchor="middle">140</text>
<text transform="translate(188 368.7) scale(1.0000 1)" font-size="13.70" text-anchor="middle">#Hydrogen Bonds</text>
<text transform="translate(26.8 266) rotate(-90) scale(1.0000 1)" font-size="13.70" text-anchor="middle">PDF</text>
<text transform="translate(15.8 192) scale(1.0000 1)" font-size="12.50" text-anchor="start" font-weight="bold" style="stroke-width:0.4px">C</text>
<polyline points="394.64,338 400.76,227.05 406.87,338" stroke="#ff2020" stroke-width="0.85" fill="none" stroke-linejoin="miter" stroke-miterlimit="20"/>
<polyline points="455.76,338 461.87,254.53 467.98,338" stroke="#ff2020" stroke-width="0.85" fill="none" stroke-linejoin="miter" stroke-miterlimit="20"/>
<polyline points="516.87,338 522.98,314.3 529.09,338" stroke="#ff2020" stroke-width="0.85" fill="none" stroke-linejoin="miter" stroke-miterlimit="20"/>
<polyline points="577.98,338 584.09,336.45 590.2,338" stroke="#ff2020" stroke-width="0.85" fill="none" stroke-linejoin="miter" stroke-miterlimit="20"/>
<path d="M370.2 303.65H380.2M370.2 269.3H380.2M370.2 234.95H380.2M400.76 338V328M461.87 338V328M522.98 338V328M584.09 338V328" stroke="#000" stroke-opacity="0.65" stroke-width="0.95" fill="none"/>
<path d="M370.2 320.82H375.2M370.2 286.48H375.2M370.2 252.12H375.2M370.2 217.77H375.2M431.31 338V333M492.42 338V333M553.53 338V333M614.64 338V333" stroke="#000" stroke-opacity="0.45" stroke-width="0.9" fill="none"/>
<rect x="370.2" y="200.6" width="275" height="137.4" fill="none" stroke="#2a2a2a" stroke-width="1.05"/>
<text transform="translate(366.4 342.5) scale(1.0000 1)" font-size="14.00" text-anchor="end">0</text>
<text transform="translate(366.4 308.15) scale(1.0000 1)" font-size="14.00" text-anchor="end">1</text>
<text transform="translate(366.4 273.8) scale(1.0000 1)" font-size="14.00" text-anchor="end">2</text>
<text transform="translate(366.4 239.45) scale(1.0000 1)" font-size="14.00" text-anchor="end">3</text>
<text transform="translate(366.4 205.1) scale(1.0000 1)" font-size="14.00" text-anchor="end">4</text>
<text transform="translate(401.56 355.3) scale(1.0000 1)" font-size="14.00" text-anchor="middle">1</text>
<text transform="translate(462.67 355.3) scale(1.0000 1)" font-size="14.00" text-anchor="middle">2</text>
<text transform="translate(523.78 355.3) scale(1.0000 1)" font-size="14.00" text-anchor="middle">3</text>
<text transform="translate(584.89 355.3) scale(1.0000 1)" font-size="14.00" text-anchor="middle">4</text>
<text transform="translate(646 355.3) scale(1.0000 1)" font-size="14.00" text-anchor="middle">5</text>
<text transform="translate(508 374.7) scale(1.0000 1)" font-size="14.00" text-anchor="middle">#Hydrogen Bonds</text>
<text transform="translate(351.4 269) rotate(-90) scale(1.0000 1)" font-size="14.00" text-anchor="middle">PDF</text>
<text transform="translate(334.8 194) scale(1.0000 1)" font-size="12.50" text-anchor="start" font-weight="bold" style="stroke-width:0.4px">D</text>
</svg></div>
</body></html>
